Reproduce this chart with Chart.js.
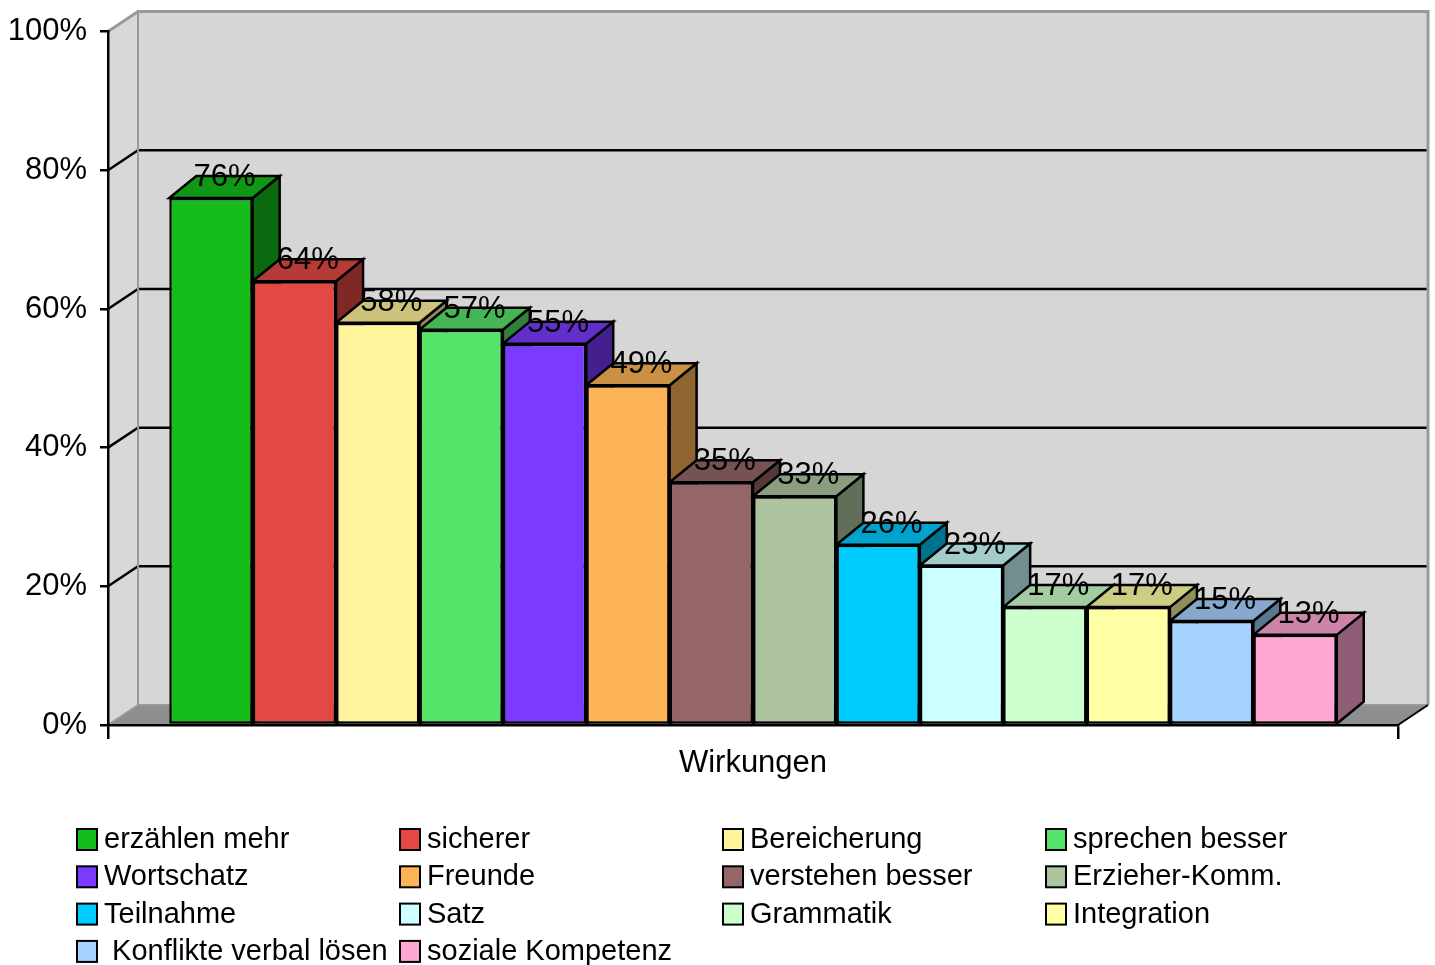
<!DOCTYPE html>
<html lang="de">
<head>
<meta charset="utf-8">
<title>Wirkungen</title>
<script src="https://cdn.jsdelivr.net/npm/chart.js@4.4.1/dist/chart.umd.min.js"></script>
<style>
  html, body { margin: 0; padding: 0; background: #ffffff; }
  #wrap { position: relative; width: 1435px; height: 965px; }
</style>
</head>
<body>
<div id="wrap"><canvas id="chart"></canvas></div>
<script>
// ---- data ----
const categories = ['Wirkungen'];
const seriesNames = [
  'erzählen mehr', 'sicherer', 'Bereicherung', 'sprechen besser',
  'Wortschatz', 'Freunde', 'verstehen besser', 'Erzieher-Komm.',
  'Teilnahme', 'Satz', 'Grammatik', 'Integration',
  ' Konflikte verbal lösen', 'soziale Kompetenz'
];
const seriesValues = [76, 64, 58, 57, 55, 49, 35, 33, 26, 23, 17, 17, 15, 13];
const seriesColors = [
  '#14bd1c', '#e34843', '#fff39b', '#55e36a',
  '#7a3aff', '#fdb457', '#956668', '#adc49e',
  '#00ccff', '#ccffff', '#ccffcc', '#ffffa6',
  '#a6d2ff', '#ffa6d2'
];
const yTickValues = [0, 20, 40, 60, 80, 100];

// ---- drawing helpers ----
const FONT = "'Liberation Sans', Arial, Helvetica, sans-serif";
const WALL_DX = 30, WALL_DY = -20;   // depth of the back wall
const BAR_DX = 27, BAR_DY = -22;     // depth of each column

function shade(hex, f) {
  const n = parseInt(hex.slice(1), 16);
  const r = Math.round(((n >> 16) & 255) * f);
  const g = Math.round(((n >> 8) & 255) * f);
  const b = Math.round((n & 255) * f);
  return `rgb(${r},${g},${b})`;
}

function poly(ctx, pts, fill, stroke, lw) {
  ctx.beginPath();
  ctx.moveTo(pts[0][0], pts[0][1]);
  for (let i = 1; i < pts.length; i++) ctx.lineTo(pts[i][0], pts[i][1]);
  ctx.closePath();
  if (fill) { ctx.fillStyle = fill; ctx.fill(); }
  if (stroke) { ctx.strokeStyle = stroke; ctx.lineWidth = lw; ctx.lineJoin = 'miter'; ctx.stroke(); }
}

// Back wall, side wall, floor and gridlines behind the columns
const wallsPlugin = {
  id: 'walls',
  beforeDraw(chart) {
    const ctx = chart.ctx;
    const x = chart.scales.x, y = chart.scales.y;
    const L = x.left, R = x.right;
    const top = y.getPixelForValue(100), bot = y.getPixelForValue(0);
    ctx.save();
    // side wall
    poly(ctx, [[L, top], [L + WALL_DX, top + WALL_DY], [L + WALL_DX, bot + WALL_DY], [L, bot]], '#d8d8d8', null);
    // back wall
    poly(ctx, [[L + WALL_DX, top + WALL_DY], [R + WALL_DX, top + WALL_DY], [R + WALL_DX, bot + WALL_DY], [L + WALL_DX, bot + WALL_DY]], '#d6d6d6', null);
    // floor
    poly(ctx, [[L, bot], [L + WALL_DX, bot + WALL_DY], [R + WALL_DX, bot + WALL_DY], [R, bot]], '#8e8e8e', null);
    // gridlines
    ctx.strokeStyle = '#000000';
    ctx.lineWidth = 2.5;
    yTickValues.forEach(v => {
      if (v === 0 || v === 100) return;
      const py = y.getPixelForValue(v);
      ctx.beginPath();
      ctx.moveTo(L, py);
      ctx.lineTo(L + WALL_DX, py + WALL_DY);
      ctx.lineTo(R + WALL_DX, py + WALL_DY);
      ctx.stroke();
    });
    // wall edges
    ctx.strokeStyle = '#9a9a9a';
    ctx.lineWidth = 3;
    ctx.beginPath();
    ctx.moveTo(L, top);
    ctx.lineTo(L + WALL_DX, top + WALL_DY);
    ctx.lineTo(R + WALL_DX, top + WALL_DY);
    ctx.lineTo(R + WALL_DX, bot + WALL_DY);
    ctx.stroke();
    ctx.lineWidth = 2;
    ctx.beginPath();
    ctx.moveTo(L + WALL_DX, top + WALL_DY);
    ctx.lineTo(L + WALL_DX, bot + WALL_DY);
    ctx.lineTo(R + WALL_DX, bot + WALL_DY);
    ctx.moveTo(L, bot);
    ctx.lineTo(L + WALL_DX, bot + WALL_DY);
    ctx.stroke();
    // right floor edge
    ctx.strokeStyle = '#000000';
    ctx.beginPath();
    ctx.moveTo(R, bot);
    ctx.lineTo(R + WALL_DX, bot + WALL_DY);
    ctx.stroke();
    ctx.restore();
  }
};

// Top and side faces of the columns (front faces are drawn by Chart.js)
const depthPlugin = {
  id: 'depth',
  beforeDatasetsDraw(chart) {
    const ctx = chart.ctx;
    ctx.save();
    chart.data.datasets.forEach((ds, i) => {
      const meta = chart.getDatasetMeta(i);
      meta.data.forEach(bar => {
        const l = bar.x - bar.width / 2, r = bar.x + bar.width / 2;
        const t = bar.y, b = bar.base;
        const col = ds.backgroundColor;
        poly(ctx, [[r, t], [r + BAR_DX, t + BAR_DY], [r + BAR_DX, b + BAR_DY], [r, b]], shade(col, 0.56), '#000', 2.5);
        poly(ctx, [[l, t], [l + BAR_DX, t + BAR_DY], [r + BAR_DX, t + BAR_DY], [r, t]], shade(col, 0.8), '#000', 2.5);
      });
    });
    ctx.restore();
  },
  afterDatasetsDraw(chart) {
    const ctx = chart.ctx;
    ctx.save();
    ctx.font = `31px ${FONT}`;
    ctx.fillStyle = '#000';
    ctx.textAlign = 'center';
    ctx.textBaseline = 'alphabetic';
    chart.data.datasets.forEach((ds, i) => {
      const meta = chart.getDatasetMeta(i);
      meta.data.forEach((bar, j) => {
        ctx.fillText(ds.data[j] + '%', bar.x + BAR_DX / 2, bar.y - 12);
      });
    });
    ctx.restore();
  }
};

// Four-column legend below the axis
const legendPlugin = {
  id: 'gridLegend',
  afterDraw(chart) {
    const ctx = chart.ctx;
    ctx.save();
    ctx.font = `29px ${FONT}`;
    ctx.textAlign = 'left';
    ctx.textBaseline = 'middle';
    chart.data.datasets.forEach((ds, i) => {
      const col = i % 4, row = Math.floor(i / 4);
      const bx = 77 + col * 323, cy = 839 + row * 37.3;
      ctx.fillStyle = ds.backgroundColor;
      ctx.fillRect(bx, cy - 10, 20, 21);
      ctx.strokeStyle = '#000';
      ctx.lineWidth = 2;
      ctx.strokeRect(bx, cy - 10, 20, 21);
      ctx.fillStyle = '#000';
      ctx.fillText(ds.label, bx + 27, cy + 1);
    });
    ctx.restore();
  }
};

Chart.defaults.font.family = FONT;
Chart.defaults.color = '#000';

new Chart(document.getElementById('chart'), {
  type: 'bar',
  data: {
    labels: categories,
    datasets: seriesNames.map((name, i) => ({
      label: name,
      data: [seriesValues[i]],
      backgroundColor: seriesColors[i],
      borderColor: '#000000',
      borderWidth: 2.5,
      borderSkipped: false,
      categoryPercentage: 0.905,
      barPercentage: 1.0
    }))
  },
  options: {
    responsive: true,
    maintainAspectRatio: false,
    animation: false,
    layout: { padding: { top: 31, right: 37, bottom: 0, left: 0 } },
    plugins: {
      legend: { display: false },
      tooltip: { enabled: false }
    },
    scales: {
      x: {
        offset: true,
        afterFit(scale) { scale.height = 240; },
        border: { display: true, color: '#000', width: 2.5 },
        grid: { display: true, drawOnChartArea: false, drawTicks: true, tickLength: 14, color: '#000', lineWidth: 2.5, offset: true },
        ticks: { font: { size: 31 }, color: '#000', padding: 6 }
      },
      y: {
        min: 0,
        max: 100,
        afterFit(scale) { scale.width = 108; },
        border: { display: true, color: '#000', width: 2.5 },
        grid: { display: true, drawOnChartArea: false, drawTicks: true, tickLength: 8, color: '#000', lineWidth: 2.5 },
        ticks: {
          stepSize: 20,
          font: { size: 31 },
          color: '#000',
          padding: 13,
          callback: v => v + '%'
        }
      }
    }
  },
  plugins: [wallsPlugin, depthPlugin, legendPlugin]
});
</script>
</body>
</html>
